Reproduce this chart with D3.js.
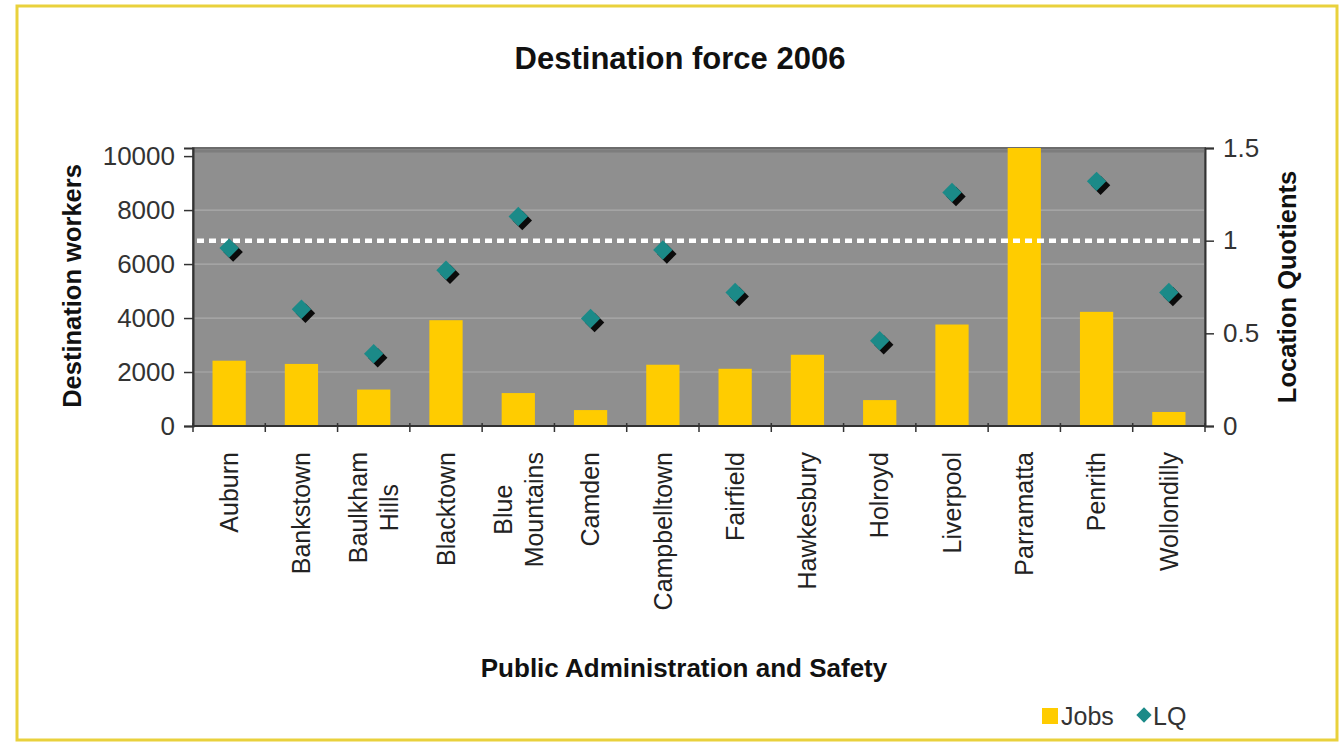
<!DOCTYPE html>
<html>
<head>
<meta charset="utf-8">
<script src="https://cdn.jsdelivr.net/npm/d3@7"></script>
<style>
  html, body { margin: 0; padding: 0; background: #fff; }
  svg { display: block; font-family: Arial, "Liberation Sans", sans-serif; }
</style>
</head>
<body>
<svg id="chart" width="1342" height="743"></svg>
<script>
// Destination force 2006 — Public Administration and Safety
const categories = [
  ["Auburn"], ["Bankstown"], ["Baulkham", "Hills"], ["Blacktown"],
  ["Blue", "Mountains"], ["Camden"], ["Campbelltown"], ["Fairfield"],
  ["Hawkesbury"], ["Holroyd"], ["Liverpool"], ["Parramatta"],
  ["Penrith"], ["Wollondilly"]
];
const jobs = [2420, 2300, 1350, 3920, 1220, 590, 2270, 2120, 2640, 960, 3760, 10300, 4230, 520];
const lq = [0.96, 0.63, 0.39, 0.84, 1.13, 0.58, 0.95, 0.72, null, 0.46, 1.26, null, 1.32, 0.72];
const leftTicks = [0, 2000, 4000, 6000, 8000, 10000];
const rightTicks = [0, 0.5, 1, 1.5];
const lqReference = 1;

const svg = d3.select("#chart");
const plot = { left: 193, right: 1205, top: 148, bottom: 426 };

// outer frame
svg.append("rect")
  .attr("x", 17).attr("y", 6).attr("width", 1320).attr("height", 734)
  .attr("fill", "#fff").attr("stroke", "#e9d13c").attr("stroke-width", 3);

const x = d3.scaleBand()
  .domain(d3.range(categories.length))
  .range([plot.left, plot.right])
  .paddingInner(0.54).paddingOuter(0.27);
const xBound = d3.scaleLinear().domain([0, categories.length]).range([plot.left, plot.right]);
const yL = d3.scaleLinear().domain([0, 10300]).range([plot.bottom, plot.top]);
const yR = d3.scaleLinear().domain([0, 1.5]).range([plot.bottom, plot.top]);

// plot background
svg.append("rect")
  .attr("x", plot.left).attr("y", plot.top)
  .attr("width", plot.right - plot.left).attr("height", plot.bottom - plot.top)
  .attr("fill", "#8f8f8f");

// gridlines
svg.append("g").selectAll("line")
  .data(leftTicks.filter(d => d > 0 && d < 10000))
  .join("line")
  .attr("x1", plot.left).attr("x2", plot.right)
  .attr("y1", d => yL(d)).attr("y2", d => yL(d))
  .attr("stroke", "#ababab").attr("stroke-width", 1.2);

// plot border (top / sides)
svg.append("path")
  .attr("d", `M${plot.left},${plot.bottom}V${plot.top}H${plot.right}V${plot.bottom}`)
  .attr("fill", "none").attr("stroke", "#6c6c6c").attr("stroke-width", 2);
svg.append("line")
  .attr("x1", plot.left).attr("x2", plot.right)
  .attr("y1", plot.top + 3).attr("y2", plot.top + 3)
  .attr("stroke", "#7d7d7d").attr("stroke-width", 3);

// clip for bars
svg.append("clipPath").attr("id", "plotClip")
  .append("rect").attr("x", plot.left).attr("y", plot.top)
  .attr("width", plot.right - plot.left).attr("height", plot.bottom - plot.top);

// bars
svg.append("g").attr("clip-path", "url(#plotClip)")
  .selectAll("rect")
  .data(jobs)
  .join("rect")
  .attr("x", (d, i) => x(i))
  .attr("width", x.bandwidth())
  .attr("y", d => yL(d))
  .attr("height", d => yL(0) - yL(d))
  .attr("fill", "#ffcc00");

// reference line at LQ = 1
svg.append("line")
  .attr("x1", plot.left + 4).attr("x2", plot.right - 4)
  .attr("y1", yR(lqReference)).attr("y2", yR(lqReference))
  .attr("stroke", "#ffffff").attr("stroke-width", 4.5)
  .attr("stroke-dasharray", "7,5");

// LQ markers with drop shadow
const diamond = d3.symbol().type(d3.symbolDiamond2).size(240);
const pts = lq.map((v, i) => ({ v, i })).filter(d => d.v !== null);
const mk = svg.append("g");
mk.selectAll("path.shadow").data(pts).join("path")
  .attr("class", "shadow")
  .attr("d", diamond)
  .attr("transform", d => `translate(${x(d.i) + x.bandwidth() / 2 + 4},${yR(d.v) + 4})`)
  .attr("fill", "#0b0b0b");
mk.selectAll("path.mark").data(pts).join("path")
  .attr("class", "mark")
  .attr("d", diamond)
  .attr("transform", d => `translate(${x(d.i) + x.bandwidth() / 2},${yR(d.v)})`)
  .attr("fill", "#1b8a88");

// x axis line and category boundary ticks
svg.append("line")
  .attr("x1", plot.left).attr("x2", plot.right)
  .attr("y1", plot.bottom).attr("y2", plot.bottom)
  .attr("stroke", "#333").attr("stroke-width", 2);
svg.append("g").selectAll("line")
  .data(d3.range(categories.length + 1))
  .join("line")
  .attr("x1", d => xBound(d)).attr("x2", d => xBound(d))
  .attr("y1", plot.bottom - 3).attr("y2", plot.bottom + 6)
  .attr("stroke", "#333").attr("stroke-width", 1.5);

// left axis
const axL = svg.append("g")
  .attr("transform", `translate(${plot.left},0)`)
  .call(d3.axisLeft(yL).tickValues(leftTicks).tickFormat(d3.format("d")).tickSize(9).tickPadding(9));
axL.select(".domain").attr("stroke", "#333").attr("stroke-width", 2);
axL.selectAll(".tick line").attr("stroke", "#333").attr("stroke-width", 1.5);
axL.selectAll("text").attr("font-size", 26).attr("fill", "#333")
  .attr("font-family", "Arial, 'Liberation Sans', sans-serif");

// right axis
const axR = svg.append("g")
  .attr("transform", `translate(${plot.right},0)`)
  .call(d3.axisRight(yR).tickValues(rightTicks).tickFormat(d => d).tickSize(9).tickPadding(9));
axR.select(".domain").attr("stroke", "#333").attr("stroke-width", 2);
axR.selectAll(".tick line").attr("stroke", "#333").attr("stroke-width", 1.5);
axR.selectAll("text").attr("font-size", 26).attr("fill", "#333")
  .attr("font-family", "Arial, 'Liberation Sans', sans-serif");

// category labels, rotated, lines centered and block anchored at the top
const labelTop = 452;
const lineGap = 31;
categories.forEach((lines, i) => {
  const cx = x(i) + x.bandwidth() / 2;
  const g = svg.append("g")
    .attr("transform", `translate(${cx},${labelTop}) rotate(-90)`);
  const texts = lines.map((t, k) => g.append("text")
    .text(t)
    .attr("font-size", 25)
    .attr("fill", "#222")
    .attr("text-anchor", "middle")
    .attr("dy", "0.35em"));
  const maxLen = d3.max(texts, t => t.node().getComputedTextLength());
  const n = lines.length;
  texts.forEach((t, k) => {
    t.attr("x", -maxLen / 2)
     .attr("y", (k - (n - 1) / 2) * lineGap);
  });
});

// titles
svg.append("text")
  .attr("x", 680).attr("y", 69)
  .attr("text-anchor", "middle")
  .attr("font-size", 31).attr("font-weight", "bold").attr("fill", "#111")
  .text("Destination force 2006");

svg.append("text")
  .attr("x", 684).attr("y", 677)
  .attr("text-anchor", "middle")
  .attr("font-size", 26).attr("font-weight", "bold").attr("fill", "#111")
  .text("Public Administration and Safety");

svg.append("text")
  .attr("transform", `translate(72,286) rotate(-90)`)
  .attr("text-anchor", "middle").attr("dy", "0.35em")
  .attr("font-size", 25.5).attr("font-weight", "bold").attr("fill", "#111")
  .text("Destination workers");

svg.append("text")
  .attr("transform", `translate(1287,287) rotate(-90)`)
  .attr("text-anchor", "middle").attr("dy", "0.35em")
  .attr("font-size", 25.5).attr("font-weight", "bold").attr("fill", "#111")
  .text("Location Quotients");

// legend
const legend = svg.append("g");
legend.append("rect")
  .attr("x", 1042).attr("y", 708).attr("width", 16).attr("height", 16)
  .attr("fill", "#ffcc00");
legend.append("text")
  .attr("x", 1061).attr("y", 725)
  .attr("font-size", 25).attr("fill", "#333")
  .text("Jobs");
legend.append("path")
  .attr("d", d3.symbol().type(d3.symbolDiamond2).size(150))
  .attr("transform", "translate(1144,715)")
  .attr("fill", "#1b8a88");
legend.append("text")
  .attr("x", 1153).attr("y", 725)
  .attr("font-size", 25).attr("fill", "#333")
  .text("LQ");
</script>
</body>
</html>
